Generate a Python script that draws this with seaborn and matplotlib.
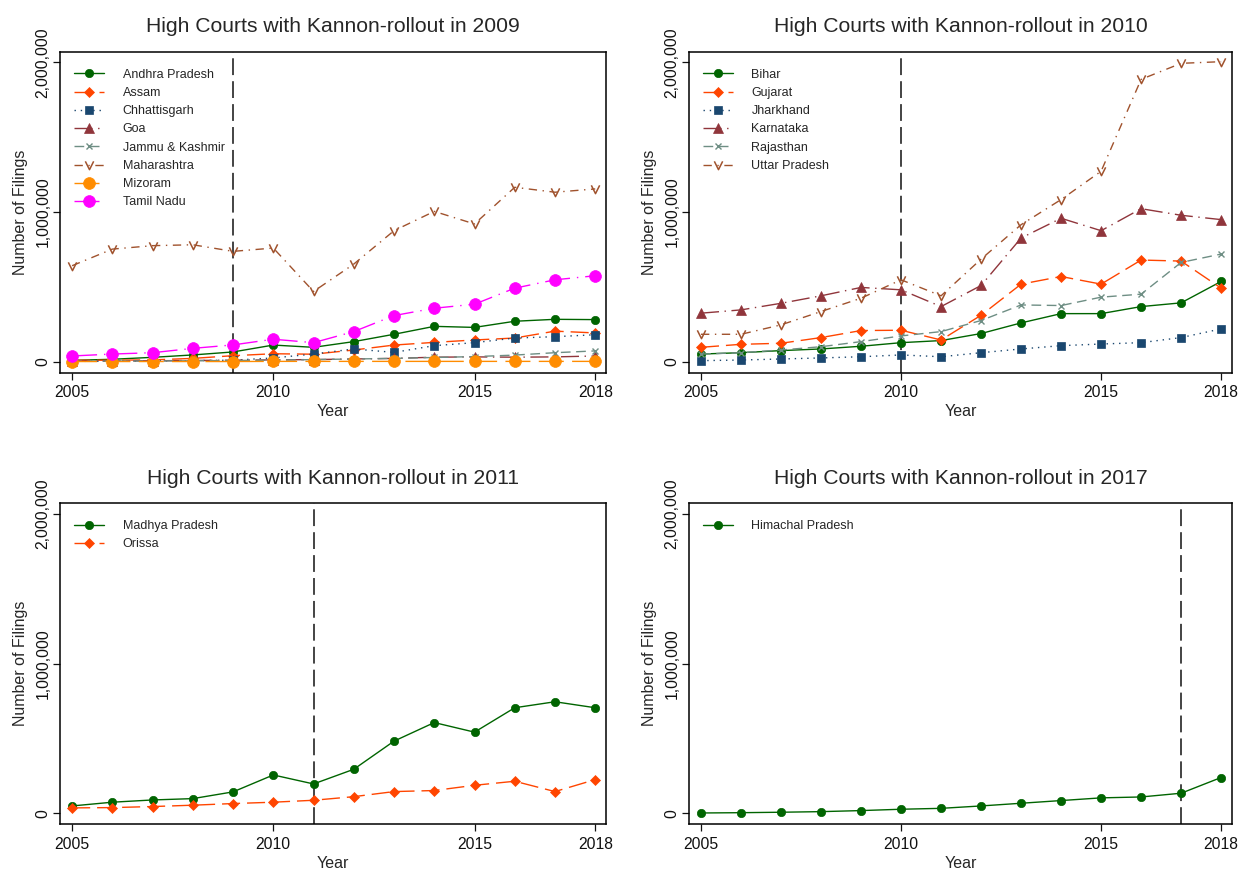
import numpy as np
import pandas as pd
import matplotlib
matplotlib.use('Agg')
import matplotlib.pyplot as plt
from matplotlib.path import Path
from matplotlib.ticker import FuncFormatter
import seaborn as sns

# years on the x axis
years = [2005, 2006, 2007, 2008, 2009, 2010, 2011, 2012, 2013, 2014, 2015, 2016, 2017, 2018]

# rollout 2009
andhra_pradesh = [9000, 16000, 29000, 45000, 65000, 111000, 96000, 134000, 183000, 236000, 229000, 270000, 283000, 281000]
assam = [9000, 10000, 12000, 22000, 40000, 53000, 50000, 78000, 111000, 129000, 145000, 158000, 204000, 192000]
chhattisgarh = [2000, 3000, 5000, 7000, 10000, 25000, 51000, 85000, 62000, 107000, 127000, 158000, 167000, 180000]
goa = [4000, 5000, 6000, 8000, 10000, 12000, 14000, 18000, 22000, 30000, 32000, 30000, 32000, 38000]
jammu_kashmir = [3000, 4000, 5000, 6000, 8000, 10000, 14000, 18000, 22000, 28000, 34000, 44000, 60000, 72000]
maharashtra = [641000, 752000, 775000, 781000, 737000, 759000, 469000, 652000, 875000, 1004000, 920000, 1165000, 1132000, 1154000]
mizoram = [1000, 1000, 1000, 1000, 1000, 2000, 2000, 2000, 2000, 2000, 2000, 2000, 2000, 2000]
tamil_nadu = [38000, 51000, 60000, 89000, 112000, 150000, 127000, 201000, 308000, 357000, 384000, 491000, 547000, 574000]

# rollout 2010
bihar = [51000, 60000, 74000, 85000, 103000, 127000, 141000, 188000, 259000, 321000, 321000, 368000, 393000, 536000]
gujarat = [96000, 116000, 123000, 161000, 208000, 210000, 145000, 310000, 518000, 569000, 518000, 679000, 672000, 491000]
jharkhand = [7000, 11000, 18000, 25000, 33000, 45000, 33000, 60000, 85000, 107000, 118000, 127000, 161000, 219000]
karnataka = [324000, 346000, 390000, 440000, 496000, 480000, 368000, 509000, 826000, 958000, 875000, 1022000, 978000, 949000]
rajasthan = [51000, 60000, 78000, 100000, 134000, 172000, 201000, 275000, 379000, 375000, 431000, 451000, 663000, 719000]
uttar_pradesh = [183000, 183000, 246000, 335000, 424000, 547000, 440000, 685000, 915000, 1083000, 1272000, 1886000, 1993000, 2004000]

# rollout 2011
madhya_pradesh = [49000, 74000, 89000, 98000, 143000, 256000, 196000, 294000, 482000, 606000, 542000, 705000, 745000, 705000]
orissa = [36000, 38000, 45000, 54000, 65000, 74000, 87000, 111000, 145000, 152000, 187000, 214000, 145000, 225000]

# rollout 2017
himachal_pradesh = [2000, 4000, 7000, 11000, 18000, 27000, 33000, 49000, 67000, 85000, 103000, 109000, 134000, 239000]

panels = [
    (2009, ['Andhra Pradesh', 'Assam', 'Chhattisgarh', 'Goa', 'Jammu & Kashmir', 'Maharashtra', 'Mizoram', 'Tamil Nadu'],
     [andhra_pradesh, assam, chhattisgarh, goa, jammu_kashmir, maharashtra, mizoram, tamil_nadu]),
    (2010, ['Bihar', 'Gujarat', 'Jharkhand', 'Karnataka', 'Rajasthan', 'Uttar Pradesh'],
     [bihar, gujarat, jharkhand, karnataka, rajasthan, uttar_pradesh]),
    (2011, ['Madhya Pradesh', 'Orissa'], [madhya_pradesh, orissa]),
    (2017, ['Himachal Pradesh'], [himachal_pradesh]),
]

# "v" shaped marker like the stata one
v_mark = Path([(-1, 1), (0, -1), (1, 1)], [Path.MOVETO, Path.LINETO, Path.LINETO])

# colour, marker, marker size, line pattern - same cycle in every panel
styles = [
    ('#006400', 'o', 6, '-'),
    ('#ff4500', 'D', 5.5, (0, (13, 5))),
    ('#1a476f', 's', 6, (0, (1, 3.5))),
    ('#90353b', '^', 6.5, (0, (13, 4, 1, 4))),
    ('#6e8e84', 'x', 4, (0, (7, 4))),
    ('#a0522d', v_mark, 6, (0, (6, 4, 1, 4))),
    ('#ff8c00', 'o', 8.5, (0, (18, 6))),
    ('#ff00ff', 'o', 8.5, (0, (18, 5, 1, 5))),
]

sns.set_theme(style='ticks')
plt.rcParams['font.family'] = ['Liberation Sans', 'DejaVu Sans']

fig = plt.figure(figsize=(12.43, 8.73), dpi=100)
positions = [[0.0483, 0.5731, 0.4393, 0.3677],
             [0.5543, 0.5731, 0.4368, 0.3677],
             [0.0483, 0.0558, 0.4393, 0.3677],
             [0.5543, 0.0558, 0.4368, 0.3677]]

for pos, (rollout, names, series) in zip(positions, panels):
    ax = fig.add_axes(pos)
    for name, vals, (col, mk, ms, ls) in zip(names, series, styles):
        df = pd.DataFrame({'Year': years, 'Filings': vals})
        if isinstance(mk, Path):
            sns.lineplot(data=df, x='Year', y='Filings', ax=ax, color=col, marker=mk, markersize=ms,
                         markerfacecolor='none', markeredgecolor=col, markeredgewidth=1.1,
                         linestyle=ls, linewidth=1.0, label=name)
        else:
            sns.lineplot(data=df, x='Year', y='Filings', ax=ax, color=col, marker=mk, markersize=ms,
                         markerfacecolor=col, markeredgecolor=col, markeredgewidth=1.0 if mk == 'x' else 0.5,
                         linestyle=ls, linewidth=1.0, label=name)
    ax.axvline(rollout, color='#111111', linestyle=(0, (11, 4)), linewidth=1.1, zorder=1)

    ax.set_xlim(2004.7, 2018.27)
    ax.set_ylim(-73500, 2070800)
    ax.set_xticks([2005, 2010, 2015, 2018])
    ax.set_yticks([0, 1000000, 2000000])
    ax.yaxis.set_major_formatter(FuncFormatter(lambda v, p: f'{v:,.0f}'))
    ax.tick_params(axis='both', direction='out', length=5, width=0.9, labelsize=11.3, colors='#111111', pad=4)
    ax.tick_params(axis='y', labelrotation=90, pad=2)
    plt.setp(ax.get_yticklabels(), va='center')
    for s in ax.spines.values():
        s.set_visible(True)
        s.set_linewidth(1.1)
        s.set_color('black')
    ax.set_xlabel('Year', fontsize=11.5, labelpad=3)
    ax.set_ylabel('Number of Filings', fontsize=11.5, labelpad=5)
    ax.set_title(f'High Courts with Kannon-rollout in {rollout}', fontsize=15.2, pad=14)
    ax.legend(loc='upper left', bbox_to_anchor=(0.0, 0.99), frameon=False, fontsize=9,
              handlelength=2.4, handletextpad=1.5, labelspacing=0.5, borderpad=0.5, borderaxespad=0.6)

fig.savefig('out.png', dpi=100)
